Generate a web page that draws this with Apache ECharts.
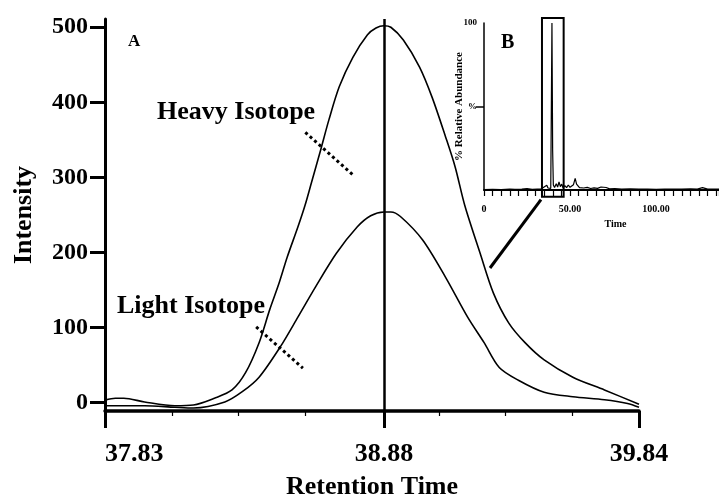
<!DOCTYPE html>
<html><head><meta charset="utf-8">
<script src="https://cdn.jsdelivr.net/npm/echarts@6/dist/echarts.min.js"></script>
<style>html,body{margin:0;padding:0;background:#fff}#c{width:719px;height:499px}</style>
</head><body><div id="c"></div>
<script>
// ---- Panel A: extracted ion chromatograms ----
const heavyTime = [37.83, 37.869, 37.901, 37.979, 38.093, 38.163, 38.242, 38.308, 38.359, 38.41, 38.45, 38.485, 38.516, 38.556, 38.583, 38.607, 38.642, 38.673, 38.712, 38.763, 38.818, 38.85, 38.88, 38.906, 38.953, 39.014, 39.061, 39.112, 39.148, 39.184, 39.242, 39.292, 39.35, 39.411, 39.483, 39.591, 39.71, 39.84];
const heavyIntensity = [3.5, 6, 6, 1, -4, -3, 6, 17, 40, 80, 124, 159, 194, 234, 263, 293, 337, 377, 421, 460, 490, 499, 502, 500, 483, 447, 407, 354, 314, 263, 199, 146, 106, 80, 57, 34, 17, -2];
const lightTime = [37.83, 37.979, 38.093, 38.163, 38.281, 38.348, 38.41, 38.489, 38.556, 38.622, 38.701, 38.779, 38.83, 38.88, 38.906, 38.942, 39.025, 39.112, 39.195, 39.257, 39.314, 39.386, 39.483, 39.591, 39.71, 39.797, 39.84];
const lightIntensity = [-4, -4, -6, -7, 1, 15, 34, 74, 114, 154, 199, 234, 249, 254, 254, 248, 217, 167, 114, 80, 47, 30, 14, 8, 4, -1, -6];
const peakTime = 38.88;
const xTickLabels = [37.83, 38.88, 39.84];
const yTickLabels = [0, 100, 200, 300, 400, 500];
const heavyPointer = [[38.584, 360], [38.765, 303]];
const lightPointer = [[38.399, 101], [38.575, 46]];

// ---- Panel B: total ion chromatogram (inset) ----
const insetTime = [0, 5, 10, 15, 18, 22, 25, 28, 31, 33, 34.5, 35.5, 36.5, 37.2, 38, 38.8, 39.5, 39.9, 40.3, 41, 42, 42.8, 43.6, 44.4, 45.2, 46, 47, 48, 49, 50, 51, 52, 53, 53.8, 54.6, 55.5, 56.5, 58, 60, 62, 64, 66, 68, 69, 71, 73, 76, 80, 85, 90, 95, 100, 105, 110, 115, 120, 124, 127, 130, 134, 136.6];
const insetAbundance = [0.3, 0.4, 0.3, 0.6, 0.4, 0.5, 0.8, 0.4, 0.6, 0.5, 1.5, 0.8, 2.8, 1.2, 2.2, 1.0, 100, 24, 3, 1.5, 3.8, 1.8, 4.8, 2, 3.5, 1.2, 2.6, 1.4, 3, 1.6, 2.5, 3.2, 7, 3.5, 2.4, 1.4, 2, 1.2, 1.6, 0.9, 1.3, 1.0, 1.8, 1.2, 1.5, 0.7, 0.9, 0.5, 0.7, 0.5, 0.6, 0.4, 0.6, 0.5, 0.5, 0.7, 0.5, 1.4, 0.5, 0.6, 0.5];
const insetXTicks = [0, 50, 100];
const insetBoxTime = [33.7, 46.3];

const FONT = "'Liberation Serif', 'Times New Roman', serif";
const txt = (size) => ({ color: '#000', fontFamily: FONT, fontWeight: 'bold', fontSize: size });

const zip = (a, b) => a.map((v, i) => [v, b[i]]);

const option = {
  backgroundColor: '#fff',
  animation: false,
  grid: [
    { left: 105, right: 80, top: 19, bottom: 88, containLabel: false, outerBoundsMode: 'none' },
    { left: 484, right: 0, top: 23, bottom: 309, containLabel: false, outerBoundsMode: 'none' }
  ],
  xAxis: [
    { gridIndex: 0, type: 'value', min: 37.83, max: 39.84,
      axisLine: { onZero: false, lineStyle: { color: '#000', width: 3.5 } },
      axisTick: { customValues: xTickLabels, length: 17, lineStyle: { color: '#000', width: 3 } },
      axisLabel: Object.assign({ customValues: xTickLabels, formatter: v => v.toFixed(2), margin: 30, alignMinLabel: 'left' }, txt(26)),
      splitLine: { show: false },
      name: 'Retention Time', nameLocation: 'middle', nameGap: 63, nameTextStyle: txt(26) },
    { gridIndex: 0, type: 'value', min: 0, max: 8, position: 'bottom',
      axisLine: { show: false, onZero: false },
      axisTick: { customValues: [1, 2, 3, 5, 6, 7], length: 5, lineStyle: { color: '#000', width: 1.2 } },
      axisLabel: { show: false }, splitLine: { show: false } },
    { gridIndex: 1, type: 'value', min: 0, max: 136.6, interval: 5,
      axisLine: { onZero: false, lineStyle: { color: '#000', width: 2 } },
      axisTick: { length: 6, lineStyle: { color: '#000', width: 1.2 } },
      axisLabel: Object.assign({ customValues: insetXTicks, formatter: v => v === 0 ? '0' : v.toFixed(2), margin: 14 }, txt(10)),
      splitLine: { show: false },
      name: 'Time', nameLocation: 'middle', nameGap: 29, nameMoveOverlap: false,
      nameTextStyle: Object.assign({ padding: [0, 0, 0, 28] }, txt(10)) }
  ],
  yAxis: [
    { gridIndex: 0, type: 'value', min: -11, max: 511,
      axisLine: { show: true, onZero: false, lineStyle: { color: '#000', width: 3 } },
      axisTick: { show: true, customValues: yTickLabels, length: 15, lineStyle: { color: '#000', width: 3 } },
      axisLabel: Object.assign({ customValues: yTickLabels, margin: 17 }, txt(24)),
      splitLine: { show: false },
      name: 'Intensity', nameLocation: 'middle', nameGap: 68, nameTextStyle: txt(26) },
    { gridIndex: 1, type: 'value', min: 0, max: 100,
      axisLine: { show: true, onZero: false, lineStyle: { color: '#000', width: 1.5 } },
      axisTick: { show: true, customValues: [50], length: 8, lineStyle: { color: '#000', width: 1.5 } },
      axisLabel: Object.assign({ customValues: [50, 100], formatter: v => v === 50 ? '%' : '100', margin: 7 }, txt(9)),
      splitLine: { show: false },
      name: '% Relative Abundance', nameLocation: 'middle', nameGap: 19, nameMoveOverlap: false, nameTextStyle: txt(11) }
  ],
  series: [
    { name: 'Heavy Isotope', type: 'line', xAxisIndex: 0, yAxisIndex: 0,
      data: zip(heavyTime, heavyIntensity), showSymbol: false, smooth: 0.3,
      lineStyle: { color: '#000', width: 1.6 }, silent: true,
      markLine: { silent: true, symbol: ['none', 'none'], label: { show: false },
        data: [
          { xAxis: peakTime, lineStyle: { color: '#000', width: 2.5, type: 'solid' } },
          [{ coord: heavyPointer[0], lineStyle: { color: '#000', width: 3, type: [3, 3] } }, { coord: heavyPointer[1] }],
          [{ coord: lightPointer[0], lineStyle: { color: '#000', width: 3, type: [3, 3] } }, { coord: lightPointer[1] }]
        ] } },
    { name: 'Light Isotope', type: 'line', xAxisIndex: 0, yAxisIndex: 0,
      data: zip(lightTime, lightIntensity), showSymbol: false, smooth: 0.3,
      lineStyle: { color: '#000', width: 1.6 }, silent: true },
    { name: 'TIC', type: 'line', xAxisIndex: 2, yAxisIndex: 1,
      data: zip(insetTime, insetAbundance), showSymbol: false,
      lineStyle: { color: '#000', width: 1.2 }, silent: true }
  ],
  graphic: [
    { type: 'text', x: 128, y: 42, style: { text: 'A', verticalAlign: 'middle', fill: '#000', fontFamily: FONT, fontWeight: 'bold', fontSize: 17 } },
    { type: 'text', x: 501, y: 43, style: { text: 'B', verticalAlign: 'middle', fill: '#000', fontFamily: FONT, fontWeight: 'bold', fontSize: 20 } },
    { type: 'text', x: 157, y: 112, style: { text: 'Heavy Isotope', verticalAlign: 'middle', fill: '#000', fontFamily: FONT, fontWeight: 'bold', fontSize: 26 } },
    { type: 'text', x: 117, y: 306, style: { text: 'Light Isotope', verticalAlign: 'middle', fill: '#000', fontFamily: FONT, fontWeight: 'bold', fontSize: 26 } }
  ]
};

const chart = echarts.init(document.getElementById('c'), null, { renderer: 'canvas' });
chart.setOption(option);

// Zoom box in inset and the connector to panel A, positioned through the inset's scales
const tl = chart.convertToPixel({ gridIndex: 1 }, [insetBoxTime[0], 103]);
const br = chart.convertToPixel({ gridIndex: 1 }, [insetBoxTime[1], -4]);
chart.setOption({
  graphic: option.graphic.concat([
    { type: 'rect', shape: { x: tl[0], y: tl[1], width: br[0] - tl[0], height: br[1] - tl[1] },
      style: { fill: 'none', stroke: '#000', lineWidth: 2 } },
    { type: 'line', shape: { x1: tl[0] - 1, y1: br[1] + 3, x2: 490, y2: 268 },
      style: { stroke: '#000', lineWidth: 3 } }
  ])
});
</script>
</body></html>
